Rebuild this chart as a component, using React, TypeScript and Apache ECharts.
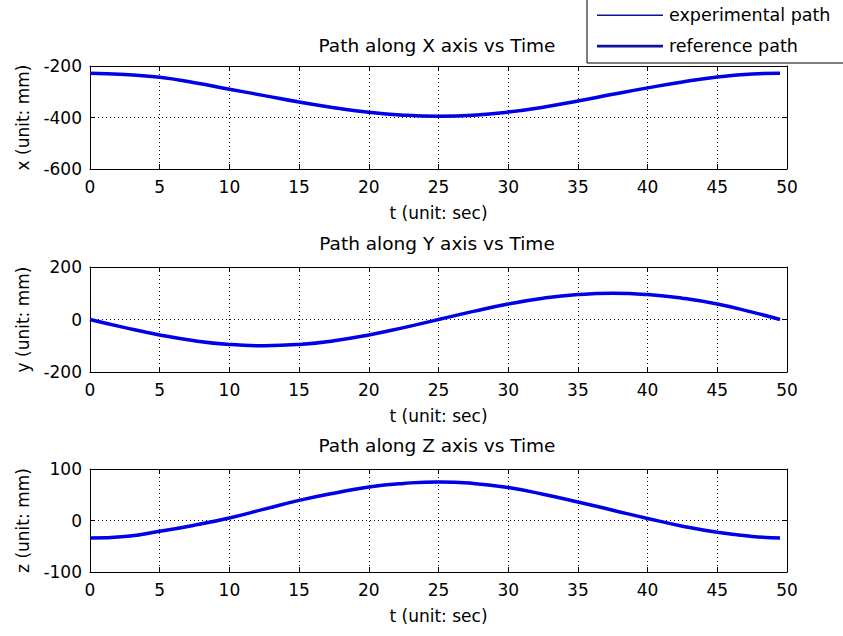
import React, { useEffect, useRef } from "react";
import * as echarts from "echarts";

const T = [0, 2.5, 5, 7.5, 10, 12.5, 15, 17.5, 20, 22.5, 25, 27.5, 30, 32.5, 35, 37.5, 40, 42.5, 45, 47.5, 49.5];

const xRef = [-228, -233, -244, -265, -290, -315, -340, -362, -380, -391, -395, -391, -379, -360, -336, -310, -285, -262, -243, -231, -228];
const xExp = [-227, -234, -245, -264, -291, -316, -339, -361, -381, -390, -396, -392, -378, -361, -335, -311, -284, -263, -242, -232, -227];

const yRef = [0, -31, -59, -81, -95, -100, -95, -81, -59, -31, 0, 31, 59, 81, 95, 100, 95, 81, 59, 28, 0];
const yExp = [1, -30, -60, -80, -96, -99, -96, -80, -60, -30, 1, 30, 60, 80, 96, 99, 96, 80, 60, 29, 1];

const zRef = [-34, -31, -21, -9, 5, 22, 39, 53, 65, 72, 75, 72, 64, 51, 36, 20, 4, -11, -23, -31, -34];
const zExp = [-33, -32, -22, -8, 6, 21, 40, 52, 66, 71, 76, 71, 65, 50, 37, 19, 5, -12, -22, -32, -33];

const titles = ["Path along X axis vs Time", "Path along Y axis vs Time", "Path along Z axis vs Time"];
const yNames = ["x (unit: mm)", "y (unit: mm)", "z (unit: mm)"];
const xName = "t (unit: sec)";
const yRanges = [
  { min: -600, max: -200, interval: 200 },
  { min: -200, max: 200, interval: 200 },
  { min: -100, max: 100, interval: 100 },
];
const seriesNames = ["experimental path", "reference path"];

const FONT = "DejaVu Sans, sans-serif";
const LINE = "#0000e6";
const LEGEND_LINE = "#1010a0";

export default function App() {
  const ref = useRef<HTMLDivElement>(null);
  useEffect(() => {
    if (!ref.current) return;
    const chart = echarts.init(ref.current, undefined, { renderer: "svg" });
    const grids = [
      { left: 90, top: 66, width: 697, height: 103 },
      { left: 90, top: 267, width: 697, height: 105 },
      { left: 90, top: 469, width: 697, height: 103 },
    ];
    const textStyle = { color: "#000", fontSize: 17, fontFamily: FONT };
    const nameStyle = { color: "#000", fontSize: 17, fontFamily: FONT };
    const xAxis: any[] = [];
    const yAxis: any[] = [];
    grids.forEach((g, i) => {
      xAxis.push({
        gridIndex: i, type: "value", min: 0, max: 50, interval: 5, position: "bottom",
        axisLine: { show: true, onZero: false, lineStyle: { color: "#000", width: 1 } },
        axisTick: { show: true, inside: true, length: 5, lineStyle: { color: "#000" } },
        axisLabel: { ...textStyle, margin: 9 },
        splitLine: { show: true, lineStyle: { color: "#000", type: [1, 3], width: 1 } },
        name: xName, nameLocation: "middle", nameGap: 35, nameTextStyle: nameStyle,
      });
      xAxis.push({
        gridIndex: i, type: "value", min: 0, max: 50, interval: 5, position: "top",
        axisLine: { show: true, onZero: false, lineStyle: { color: "#000", width: 1 } },
        axisTick: { show: true, inside: true, length: 5, lineStyle: { color: "#000" } },
        axisLabel: { show: false }, splitLine: { show: false },
      });
      const r = yRanges[i];
      yAxis.push({
        gridIndex: i, type: "value", min: r.min, max: r.max, interval: r.interval, position: "left",
        axisLine: { show: true, onZero: false, lineStyle: { color: "#000", width: 1 } },
        axisTick: { show: true, inside: true, length: 5, lineStyle: { color: "#000" } },
        axisLabel: { ...textStyle, margin: 8 },
        splitLine: { show: true, lineStyle: { color: "#000", type: [1, 3], width: 1 } },
        name: yNames[i], nameLocation: "middle", nameGap: 59, nameTextStyle: nameStyle,
      });
      yAxis.push({
        gridIndex: i, type: "value", min: r.min, max: r.max, interval: r.interval, position: "right",
        axisLine: { show: true, onZero: false, lineStyle: { color: "#000", width: 1 } },
        axisTick: { show: true, inside: true, length: 5, lineStyle: { color: "#000" } },
        axisLabel: { show: false }, splitLine: { show: false },
      });
    });
    const dataSets = [
      [xExp, xRef],
      [yExp, yRef],
      [zExp, zRef],
    ];
    const series: any[] = [];
    dataSets.forEach((pair, i) => {
      [1, 0].forEach((k) => {
        series.push({
          name: seriesNames[k], type: "line", xAxisIndex: i * 2, yAxisIndex: i * 2,
          data: T.map((t, j) => [t, pair[k][j]]),
          smooth: true, symbol: "none", showSymbol: false,
          lineStyle: { color: LINE, width: k === 1 ? 3.5 : 1 },
          itemStyle: { color: LINE },
          z: k === 0 ? 3 : 2,
        });
      });
    });
    const thin = "path://M0,0 L0,14 M0,6.6 L66,6.6 L66,7.9 L0,7.9 Z";
    const thick = "path://M0,0 L0,14 M0,5.8 L66,5.8 L66,8.4 L0,8.4 Z";
    chart.setOption({
      animation: false,
      backgroundColor: "#fff",
      title: titles.map((t, i) => ({
        text: t, left: 432, top: [31, 229, 431][i], textAlign: "center",
        textStyle: { ...nameStyle, fontSize: 18.5, fontWeight: "normal" },
      })),
      grid: grids,
      xAxis, yAxis, series,
      graphic: [
        { type: "rect", shape: { x: 587, y: -5, width: 270, height: 68 }, style: { fill: "#fff", stroke: "#000", lineWidth: 1 }, z: 10 },
      ],
      legend: {
        orient: "vertical", left: 592, top: 1, itemWidth: 66, itemHeight: 14, itemGap: 13,
        data: [
          { name: seriesNames[0], icon: thin, itemStyle: { color: LEGEND_LINE, borderWidth: 0 }, lineStyle: { color: LEGEND_LINE } },
          { name: seriesNames[1], icon: thick, itemStyle: { color: LEGEND_LINE, borderWidth: 0 }, lineStyle: { color: LEGEND_LINE } },
        ],
        textStyle: { ...textStyle, fontSize: 17.5, padding: [0, 0, 0, 1] }, z: 20,
      },
    });
    return () => chart.dispose();
  }, []);
  return <div ref={ref} style={{ position: "absolute", left: 0, top: 0, width: 843, height: 636 }} />;
}
